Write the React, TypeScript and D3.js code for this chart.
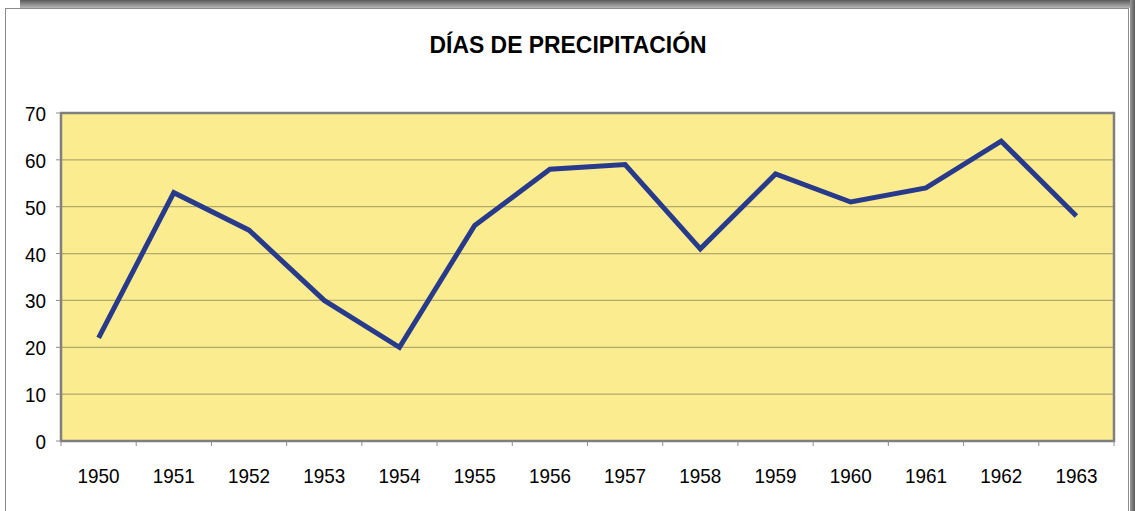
import React from "react";
import * as d3 from "d3";

const years = ["1950","1951","1952","1953","1954","1955","1956","1957","1958","1959","1960","1961","1962","1963"];
const days = [22, 53, 45, 30, 20, 46, 58, 59, 41, 57, 51, 54, 64, 48];
const yTicks = [0, 10, 20, 30, 40, 50, 60, 70];
const title = "DÍAS DE PRECIPITACIÓN";

export default function App() {
  const W = 1135, H = 511;
  const left = 61, right = 1114, top = 113, bottom = 441;
  const x = d3.scaleBand().domain(years).range([left, right]);
  const y = d3.scaleLinear().domain([0, 70]).range([bottom, top]);
  const line = d3.line<number>()
    .x((_, i) => (x(years[i]) as number) + x.bandwidth() / 2)
    .y((d) => y(d));
  const font = "'Liberation Sans', Arial, sans-serif";
  const cw = 10.5;
  return (
    <svg width={W} height={H} style={{ position: "absolute", left: 0, top: 0 }}>
      <defs>
        <linearGradient id="topShadow" x1="0" y1="0" x2="0" y2="1">
          <stop offset="0" stopColor="#5a5a5a" />
          <stop offset="1" stopColor="#b8b8b8" />
        </linearGradient>
        <linearGradient id="rightShadow" x1="0" y1="0" x2="1" y2="0">
          <stop offset="0" stopColor="#9a9a9a" />
          <stop offset="1" stopColor="#5a5a5a" />
        </linearGradient>
      </defs>
      <rect x={0} y={0} width={W} height={H} fill="#ffffff" />
      <rect x={20} y={0} width={W - 20} height={8} fill="url(#topShadow)" />
      <rect x={1130} y={0} width={5} height={H} fill="url(#rightShadow)" />
      <rect x={5.5} y={8.5} width={1123} height={H} fill="#ffffff" stroke="#8c8c8c" strokeWidth={1} />
      <text x={568} y={52.5} textAnchor="middle" fontFamily={font} fontWeight="bold" fontSize={24.5} textLength={277} lengthAdjust="spacingAndGlyphs" fill="#000">{title}</text>
      <rect x={left} y={top} width={right - left} height={bottom - top} fill="#FBEC8F" />
      {yTicks.filter(t => t > 0 && t < 70).map(t => (
        <line key={t} x1={left} x2={right} y1={y(t)} y2={y(t)} stroke="#B3A96A" strokeWidth={1.3} />
      ))}
      <rect x={left} y={top} width={right - left} height={bottom - top} fill="none" stroke="#7f7f7f" strokeWidth={2.5} />
      {yTicks.map(t => (
        <g key={t}>
          <line x1={left - 5} x2={left} y1={y(t)} y2={y(t)} stroke="#8c8c8c" strokeWidth={1} />
          <text x={46} y={y(t) + 8} textAnchor="end" fontFamily={font} fontSize={21} textLength={String(t).length * cw} lengthAdjust="spacingAndGlyphs" fill="#000">{t}</text>
        </g>
      ))}
      {years.map((yr) => (
        <line key={"t" + yr} x1={(x(yr) as number)} x2={(x(yr) as number)} y1={bottom} y2={bottom + 5} stroke="#8c8c8c" strokeWidth={1} />
      ))}
      <line x1={right} x2={right} y1={bottom} y2={bottom + 5} stroke="#8c8c8c" strokeWidth={1} />
      {years.map(yr => (
        <text key={yr} x={(x(yr) as number) + x.bandwidth() / 2} y={483} textAnchor="middle" fontFamily={font} fontSize={21} textLength={yr.length * cw} lengthAdjust="spacingAndGlyphs" fill="#000">{yr}</text>
      ))}
      <path d={line(days) || ""} fill="none" stroke="#283A8C" strokeWidth={5} strokeLinejoin="miter" />
    </svg>
  );
}
